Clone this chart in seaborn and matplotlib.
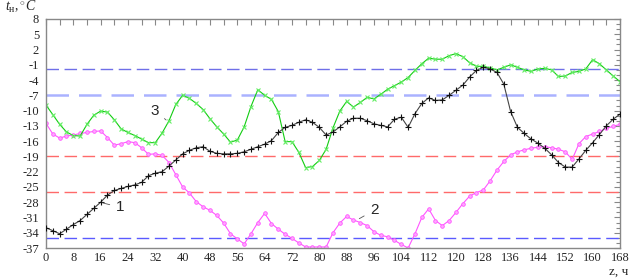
import numpy as np
import pandas as pd
import seaborn as sns
import matplotlib.pyplot as plt
from matplotlib.ticker import MultipleLocator, FixedLocator

sns.set_style("white")
plt.rcParams["font.family"] = ["Liberation Serif", "DejaVu Serif"]
plt.rcParams["mathtext.fontset"] = "custom"
plt.rcParams["mathtext.rm"] = "Liberation Serif"
plt.rcParams["mathtext.it"] = "Liberation Serif:italic"
plt.rcParams["axes.unicode_minus"] = False

# время, ч
hours = list(range(0, 169, 2))

# 1 - температура наружного воздуха (черная)
t1 = [-33.0, -33.6, -34.2, -33.3, -32.4, -31.6, -30.4, -29.2, -28.0, -26.6,
      -25.7, -25.3, -24.9, -24.6, -24.1, -22.8, -22.3, -22.0, -20.9, -19.7,
      -18.5, -17.8, -17.3, -17.1, -18.0, -18.4, -18.5, -18.5, -18.4, -18.1,
      -17.6, -17.1, -16.6, -15.9, -14.3, -13.3, -12.9, -12.3, -11.8, -12.3,
      -13.3, -14.8, -14.2, -13.2, -12.1, -11.5, -11.5, -12.0, -12.6, -12.9,
      -13.2, -11.7, -11.3, -13.3, -10.6, -8.6, -7.5, -8.0, -7.9, -7.0,
      -6.0, -5.0, -3.4, -2.1, -1.5, -1.8, -2.5, -4.8, -10.2, -13.3,
      -14.5, -15.6, -16.4, -17.4, -18.7, -20.2, -21.1, -21.1, -19.5, -17.8,
      -16.3, -14.7, -13.0, -11.7, -10.7]

# 2 (малиновая)
t2 = [-12.5, -14.6, -15.4, -15.0, -14.8, -14.5, -14.3, -14.1, -14.0, -15.3,
      -16.8, -16.5, -16.1, -16.3, -17.3, -18.6, -18.5, -18.8, -20.2, -22.6,
      -25.0, -26.2, -27.9, -28.9, -29.6, -30.6, -32.1, -34.2, -35.2, -36.2,
      -34.2, -32.0, -30.2, -32.2, -33.3, -34.3, -35.1, -36.0, -36.8, -36.8,
      -36.8, -36.8, -34.0, -32.1, -30.8, -31.5, -32.0, -32.6, -33.8, -34.5,
      -34.8, -35.5, -36.3, -37.0, -34.2, -31.0, -29.3, -31.6, -32.6, -31.6,
      -30.0, -28.3, -26.8, -26.1, -25.6, -23.8, -21.7, -20.0, -18.7, -18.1,
      -17.7, -17.4, -17.2, -17.1, -17.3, -17.6, -18.1, -19.6, -16.5, -15.1,
      -14.6, -14.1, -13.5, -13.1, -12.7]

# 3 (зеленая)
t3 = [-8.9, -10.8, -12.7, -14.2, -14.9, -15.0, -12.7, -10.9, -10.1, -10.3,
      -11.8, -13.6, -14.3, -14.9, -15.6, -16.3, -16.3, -14.4, -12.0, -8.8,
      -7.0, -7.6, -8.6, -9.8, -11.6, -13.2, -14.6, -16.2, -15.8, -13.2,
      -9.2, -5.9, -7.0, -7.8, -10.2, -16.1, -16.1, -18.2, -21.2, -21.0,
      -19.8, -17.6, -13.4, -10.1, -8.2, -9.3, -8.4, -7.4, -7.7, -6.8,
      -5.8, -5.1, -4.4, -3.5, -2.1, -0.8, 0.3, 0.1, 0.1, 0.8,
      1.2, 0.6, -0.6, -1.3, -1.3, -1.6, -2.0, -1.5, -1.0, -1.5,
      -2.0, -2.3, -1.8, -1.7, -2.0, -3.3, -3.2, -2.5, -2.3, -1.8,
      0.0, -0.8, -2.0, -3.2, -4.3]

# горизонтальные уровни
levels = [-1.9, -6.9, -18.9, -26.0, -35.1]
level_colors = ["#6f6fe8", "#aab2ff", "#ff6a6a", "#ff6a6a", "#5a5aff"]
level_widths = [1.0, 1.8, 1.0, 1.0, 1.0]

df = pd.DataFrame({"z": hours, "t1": t1, "t2": t2, "t3": t3})

fig = plt.figure(figsize=(6.36, 2.78), dpi=100, facecolor="w")
ax = fig.add_axes([0.0723, 0.1079, 0.9025, 0.8238])

for lv, c, lw in zip(levels, level_colors, level_widths):
    ax.axhline(lv, color=c, lw=lw, dashes=(9, 4), zorder=1)

sns.lineplot(data=df, x="z", y="t1", ax=ax, color="#444444", lw=0.8,
             marker="+", markersize=4, markeredgecolor="#111111",
             markeredgewidth=0.8, zorder=3)
sns.lineplot(data=df, x="z", y="t2", ax=ax, color="#ff55ff", lw=0.8,
             marker="o", markersize=2.6, markerfacecolor="#ffa8ff",
             markeredgecolor="#ff55ff", markeredgewidth=0.6, zorder=2)
sns.lineplot(data=df, x="z", y="t3", ax=ax, color="#11cc11", lw=0.8,
             marker="x", markersize=3.5, markeredgecolor="#66ee66",
             markeredgewidth=0.8, zorder=2)

ax.set_xlim(0, 168)
ax.set_ylim(-37, 8)
ax.xaxis.set_major_locator(MultipleLocator(8))
ax.xaxis.set_minor_locator(MultipleLocator(4))
ax.yaxis.set_major_locator(FixedLocator(np.arange(-37, 9, 3)))
ax.yaxis.set_minor_locator(MultipleLocator(1))
ax.tick_params(which="both", direction="in", top=True, right=True,
               length=4, width=0.8, color="#888888", labelsize=9)
ax.tick_params(axis="x", pad=3)
ax.tick_params(axis="y", pad=5)
ax.tick_params(axis="y", which="minor", length=3)
for s in ax.spines.values():
    s.set_color("#888888")
    s.set_linewidth(1.0)
ax.set_xlabel("")
ax.set_ylabel("")

ann = dict(arrowstyle="-", color="#555555", lw=0.6)
ax.annotate("1", xy=(15.8, -28.0), xytext=(20.4, -29.0), fontsize=11,
            family="Liberation Sans", va="center", ha="left", arrowprops=ann)
ax.annotate("2", xy=(91.0, -31.5), xytext=(94.8, -29.6), fontsize=11,
            family="Liberation Sans", va="center", ha="left", arrowprops=ann)
ax.annotate("3", xy=(35.8, -12.2), xytext=(30.6, -10.0), fontsize=11,
            family="Liberation Sans", va="center", ha="left", arrowprops=ann)

fig.text(0.008, 0.975, r"$t_{\mathrm{н}}, ^{\circ}C$", fontsize=10, va="center")
fig.text(0.958, 0.022, "z, ч", fontsize=9.5, va="center", ha="left")

fig.savefig("out.png", dpi=100, facecolor="w")
